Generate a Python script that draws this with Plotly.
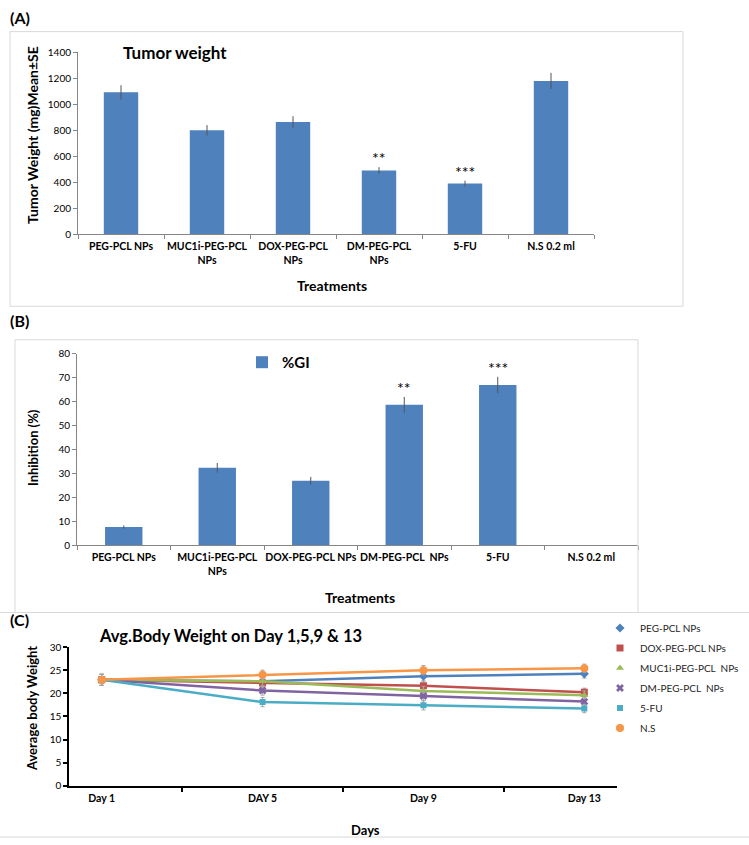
import plotly.graph_objects as go

W, H = 749, 845

# ---------------- data ----------------
treat_a = ["PEG-PCL NPs", "MUC1i-PEG-PCL<br>NPs", "DOX-PEG-PCL<br>NPs",
           "DM-PEG-PCL<br>NPs", "5-FU", "N.S 0.2 ml"]
tumor_weight = [1092, 800, 864, 492, 391, 1180]
tumor_se = [55, 40, 45, 25, 22, 62]
stars_a = ["", "", "", "**", "***", ""]

treat_b = ["PEG-PCL NPs", "MUC1i-PEG-PCL<br>NPs", "DOX-PEG-PCL NPs",
           "DM-PEG-PCL  NPs", "5-FU", "N.S 0.2 ml"]
inhibition = [7.6, 32.4, 27.0, 58.7, 67.0, 0]
inhibition_se = [0.7, 2.0, 1.6, 3.3, 3.4, 0]
stars_b = ["", "", "", "**", "***", ""]

days = ["Day 1", "DAY 5", "Day 9", "Day 13"]
bw_peg = [22.9, 22.6, 23.7, 24.2]
bw_dox = [22.9, 22.2, 21.6, 20.2]
bw_muc = [22.9, 22.6, 20.5, 19.6]
bw_dm = [22.9, 20.6, 19.4, 18.2]
bw_5fu = [22.9, 18.1, 17.4, 16.7]
bw_ns = [22.9, 24.0, 25.0, 25.4]
bw_err = [1.2, 1.0, 1.0, 0.9]

series_c = [
    ("PEG-PCL NPs", bw_peg, "#4F81BD", "diamond", 7),
    ("DOX-PEG-PCL NPs", bw_dox, "#C0504D", "square", 7),
    ("MUC1i-PEG-PCL  NPs", bw_muc, "#9BBB59", "triangle-up", 7),
    ("DM-PEG-PCL  NPs", bw_dm, "#8064A2", "x", 7),
    ("5-FU", bw_5fu, "#4BACC6", "square", 6),
    ("N.S", bw_ns, "#F79646", "circle", 8),
]

BAR = "#4F81BD"
FONT = "Lato"


def px_x(p):
    return p / W


def px_y(p):
    return 1 - p / H


fig = go.Figure()

# ---------------- panel A ----------------
fig.add_trace(go.Bar(
    x=treat_a, y=tumor_weight, width=0.4, marker=dict(color=BAR, line=dict(width=0)),
    error_y=dict(type="data", array=tumor_se, color="#555555", thickness=1, width=0),
    xaxis="x", yaxis="y", showlegend=False))

# ---------------- panel B ----------------
fig.add_trace(go.Bar(
    x=treat_b, y=inhibition, width=0.4, name="%GI",
    marker=dict(color=BAR, line=dict(width=0)),
    error_y=dict(type="data", array=inhibition_se, color="#555555", thickness=1, width=0),
    xaxis="x2", yaxis="y2", showlegend=True, legend="legend2"))

# ---------------- panel C ----------------
for name, vals, col, sym, size in series_c:
    fig.add_trace(go.Scatter(
        x=days, y=vals, name=name, mode="lines+markers",
        line=dict(color=col, width=2.5),
        marker=dict(symbol=sym, size=size, color=col),
        error_y=dict(type="data", array=bw_err, color="#A6A6A6", thickness=1, width=2),
        xaxis="x3", yaxis="y3", showlegend=False))
# legend entries (marker only, like the reference legend)
for name, vals, col, sym, size in series_c:
    fig.add_trace(go.Scatter(
        x=[None], y=[None], name=name, mode="markers",
        marker=dict(symbol=sym, size=size, color=col),
        xaxis="x3", yaxis="y3", legend="legend", legendgroup=name, showlegend=True))

ticklab = dict(family=FONT, size=10.5, color="#000000", weight="bold")
ylab = dict(family=FONT, size=10, color="#000000")

common_x = dict(type="category", showgrid=False, zeroline=False, showline=True,
                ticks="outside", ticklen=4, tickson="boundaries", tickangle=0,
                ticklabelstandoff=2, tickfont=ticklab, fixedrange=True)
common_y = dict(showgrid=False, zeroline=False, showline=True,
                ticks="outside", ticklen=4, tickfont=ylab, fixedrange=True)

fig.update_layout(
    width=W, height=H, margin=dict(l=0, r=0, t=0, b=0),
    paper_bgcolor="white", plot_bgcolor="white",
    font=dict(family=FONT, color="#000000"),
    xaxis=dict(**common_x, domain=[px_x(78), px_x(594)], anchor="y",
               linecolor="#868686", tickcolor="#868686"),
    yaxis=dict(**common_y, domain=[px_y(231), px_y(46)], anchor="x",
               range=[0, 1400], dtick=200, linecolor="#868686", tickcolor="#868686"),
    xaxis2=dict(**common_x, domain=[px_x(77), px_x(638)], anchor="y2",
                linecolor="#868686", tickcolor="#868686"),
    yaxis2=dict(**common_y, domain=[px_y(546.7), px_y(352.3)], anchor="x2",
                range=[0, 80], dtick=10, linecolor="#868686", tickcolor="#868686"),
    xaxis3=dict(**common_x, domain=[px_x(69.3), px_x(616.7)], anchor="y3",
                linecolor="#000000", tickcolor="#000000", linewidth=2, tickwidth=2),
    yaxis3=dict(**common_y, domain=[px_y(791), px_y(650)], anchor="x3",
                range=[0, 30], dtick=5, linecolor="#000000", tickcolor="#000000",
                linewidth=2, tickwidth=2),
    legend=dict(x=px_x(600), y=px_y(616), xanchor="left", yanchor="top",
                font=dict(family=FONT, size=10, color="#262626"),
                bgcolor="rgba(0,0,0,0)", itemwidth=30, tracegroupgap=1,
                traceorder="grouped"),
    legend2=dict(x=px_x(242), y=px_y(361), xanchor="left", yanchor="middle",
                 font=dict(family=FONT, size=15, color="#000000", weight="bold"),
                 bgcolor="rgba(0,0,0,0)", itemwidth=30),
    bargap=0.6,
)

# significance stars
ann = []
for cat, v, e, s in zip(treat_a, tumor_weight, tumor_se, stars_a):
    if s:
        ann.append(dict(x=cat, y=v + e, xref="x", yref="y", text=s, showarrow=False,
                        yanchor="bottom", yshift=-2,
                        font=dict(family=FONT, size=16, color="#000000")))
for cat, v, e, s in zip(treat_b, inhibition, inhibition_se, stars_b):
    if s:
        ann.append(dict(x=cat, y=v + e, xref="x2", yref="y2", text=s, showarrow=False,
                        yanchor="bottom", yshift=-2,
                        font=dict(family=FONT, size=16, color="#000000")))


def txt(x, y, s, size, bold=True, angle=0, xanchor="center"):
    ann.append(dict(x=px_x(x), y=px_y(y), xref="paper", yref="paper", text=s,
                    showarrow=False, textangle=angle, xanchor=xanchor, yanchor="middle",
                    font=dict(family=FONT, size=size, color="#000000",
                              weight="bold" if bold else "normal")))


txt(8, 11, "(A)", 16, xanchor="left")
txt(8, 318, "(B)", 16, xanchor="left")
txt(8, 622, "(C)", 16, xanchor="left")
txt(121, 46, "Tumor weight", 17, xanchor="left")
txt(32, 130, "Tumor Weight (mg)Mean±SE", 14, angle=-90)
txt(332, 283, "Treatments", 14)
txt(33, 448, "Inhibition (%)", 13, angle=-90)
txt(360, 600, "Treatments", 14)
txt(230, 639, "Avg.Body Weight on Day 1,5,9 &amp; 13", 16.5)
txt(32, 713, "Average body Weight", 13, angle=-90)
txt(365, 836, "Days", 13)
fig.update_layout(annotations=ann)

# panel frames
frame = dict(color="#D9D9D9", width=1)
fig.update_layout(shapes=[
    dict(type="rect", xref="paper", yref="paper", x0=px_x(10), x1=px_x(683),
         y0=px_y(304), y1=px_y(25), line=frame),
    dict(type="rect", xref="paper", yref="paper", x0=px_x(15), x1=px_x(638),
         y0=px_y(615), y1=px_y(338), line=frame),
    dict(type="line", xref="paper", yref="paper", x0=0, x1=1,
         y0=px_y(843), y1=px_y(843), line=frame),
    dict(type="line", xref="paper", yref="paper", x0=0, x1=1,
         y0=px_y(615), y1=px_y(615), line=frame),
])

# remove the browser's default body margin so the figure fills the window exactly
fig.write_html("out.html", config={"displayModeBar": False},
               post_script="document.body.style.margin='0px';")
